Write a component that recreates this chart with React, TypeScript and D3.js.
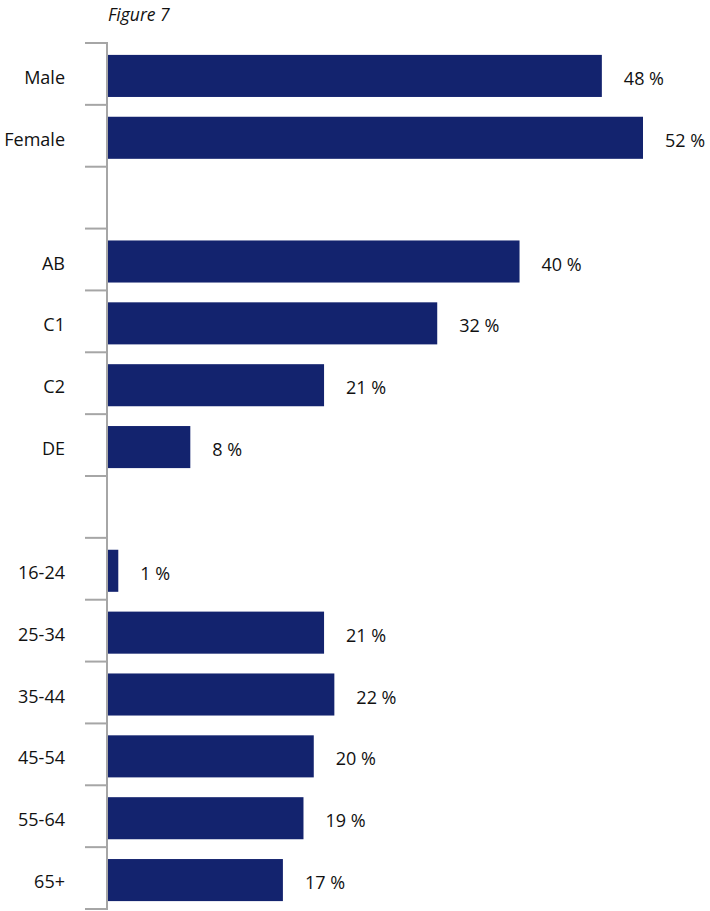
import React from "react";
import * as d3 from "d3";

const categories = ["Male", "Female", "", "AB", "C1", "C2", "DE", "", "16-24", "25-34", "35-44", "45-54", "55-64", "65+"];
const values: (number | null)[] = [48, 52, null, 40, 32, 21, 8, null, 1, 21, 22, 20, 19, 17];
const valueLabels = ["48 %", "52 %", "", "40 %", "32 %", "21 %", "8 %", "", "1 %", "21 %", "22 %", "20 %", "19 %", "17 %"];
const title = "Figure 7";

const W = 710;
const H = 911;
const FONT = "'Open Sans', 'Noto Sans', sans-serif";

export default function App() {
  const keys = categories.map((c, i) => `${i}`);
  const y = d3.scaleBand<string>().domain(keys).range([43, 909]).paddingInner(0.32).paddingOuter(0.16);
  const x = d3.scaleLinear().domain([0, 52]).range([108, 643]);
  const step = y.step();
  const top = 43;
  const ticks = d3.range(categories.length + 1).map((i) => top + i * step);

  return (
    <svg width={W} height={H} style={{ position: "absolute", left: 0, top: 0 }} fontFamily={FONT}>
      <text x={108} y={21} fontSize={17.5} fontStyle="italic" fill="#111">{title}</text>
      <line x1={107} x2={107} y1={top} y2={909} stroke="#a6a6a6" strokeWidth={2} />
      {ticks.map((t, i) => (
        <line key={i} x1={85} x2={108} y1={t} y2={t} stroke="#a6a6a6" strokeWidth={2} />
      ))}
      {categories.map((c, i) => {
        const v = values[i];
        if (v === null) return null;
        const by = y(keys[i])! + 2;
        const bh = y.bandwidth();
        const cy = by + bh / 2;
        return (
          <g key={i}>
            <rect x={x(0)} y={by} width={x(v) - x(0)} height={bh} fill="#13236e" />
            <text x={65} y={cy + 8} textAnchor="end" fontSize={18} fill="#111">{c}</text>
            <text x={x(v) + 22} y={cy + 9} fontSize={18} fill="#111">{valueLabels[i]}</text>
          </g>
        );
      })}
    </svg>
  );
}
